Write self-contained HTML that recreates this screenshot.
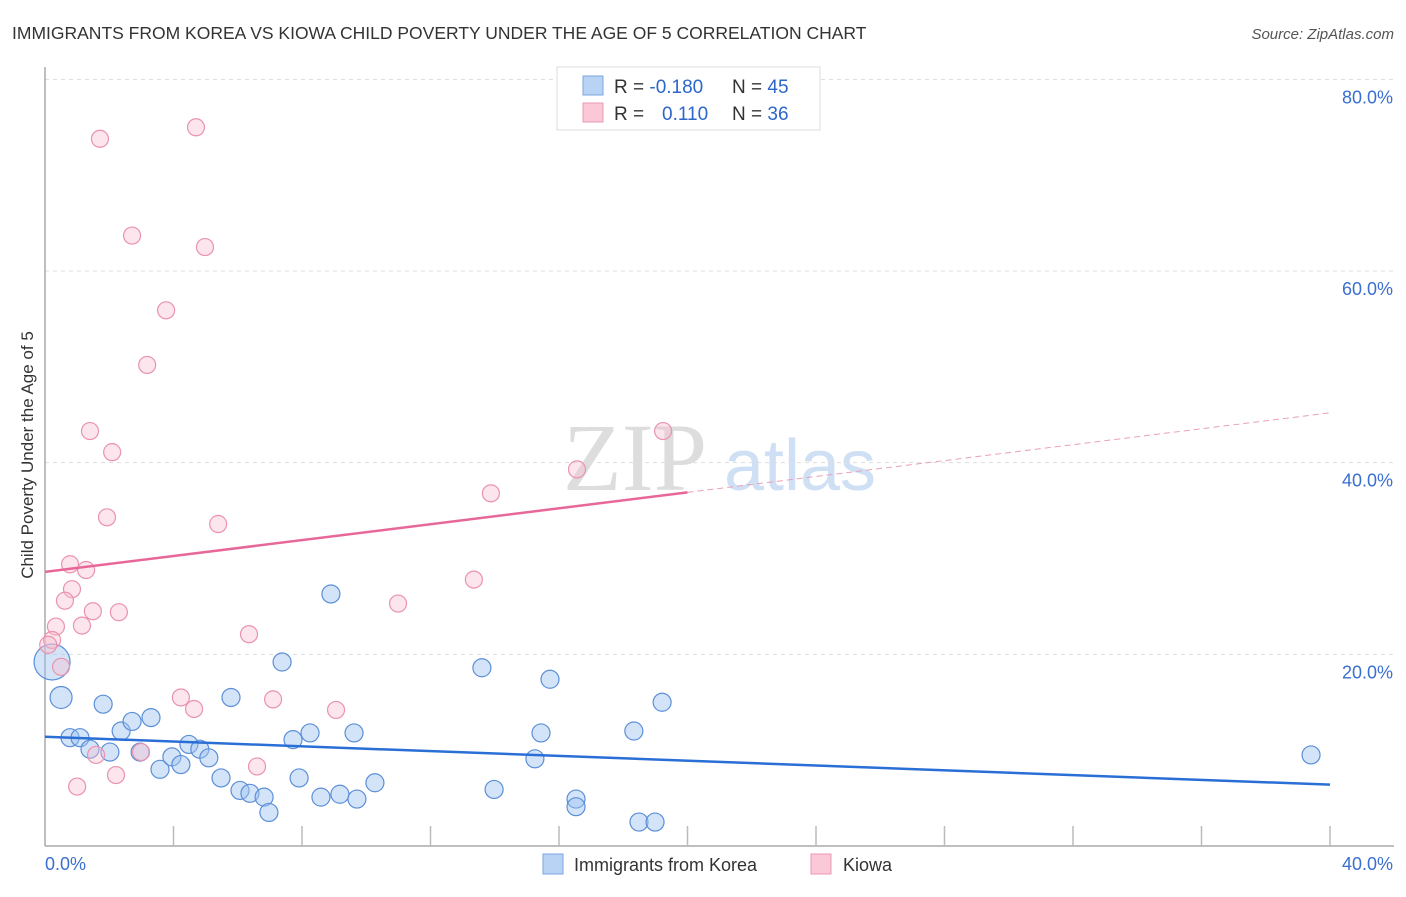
<!DOCTYPE html>
<html><head><meta charset="utf-8"><style>
body{margin:0;background:#fff;font-family:"Liberation Sans",sans-serif;}
svg text{font-family:"Liberation Sans",sans-serif;}
</style></head><body>
<svg id="c" width="1406" height="892">
<text x="12" y="39" font-size="17.5" fill="#333">IMMIGRANTS FROM KOREA VS KIOWA CHILD POVERTY UNDER THE AGE OF 5 CORRELATION CHART</text>
<text x="1394" y="39" font-size="15" fill="#555" font-style="italic" text-anchor="end">Source: ZipAtlas.com</text>
<text transform="translate(33,455) rotate(-90)" font-size="17" fill="#333" text-anchor="middle">Child Poverty Under the Age of 5</text>
<g>
<text x="635" y="490" font-size="96" fill="#ddd" font-family="Liberation Serif" text-anchor="middle" style="font-family:'Liberation Serif',serif">ZIP</text>
<text x="800" y="490" font-size="72" fill="#cfe0f5" text-anchor="middle">atlas</text>
</g>
<g id="grid"></g><g id="axes"></g><g id="marks"></g>
<g>
<rect x="557" y="67" width="263" height="63" fill="#fff" stroke="#ddd"/>
<rect x="583" y="76" width="20" height="19" fill="#b9d3f5" stroke="#7aa6e0"/>
<rect x="583" y="103" width="20" height="19" fill="#fac8d6" stroke="#eb98b2"/>
<text x="614" y="93" font-size="19" fill="#333">R = <tspan fill="#2d66c9">-0.180</tspan>  <tspan x="732">N = </tspan><tspan fill="#2d66c9">45</tspan></text>
<text x="614" y="120" font-size="19" fill="#333">R = <tspan x="662" fill="#2d66c9">0.110</tspan><tspan x="732">N = </tspan><tspan fill="#2d66c9">36</tspan></text>
</g>
<g>
<rect x="543" y="854" width="20" height="20" fill="#b9d3f5" stroke="#7aa6e0"/>
<text x="574" y="871" font-size="18" fill="#333">Immigrants from Korea</text>
<rect x="811" y="854" width="20" height="20" fill="#fac8d6" stroke="#eb98b2"/>
<text x="843" y="871" font-size="18" fill="#333">Kiowa</text>
</g>
</svg>
<script>
const yTicks=[20,40,60,80];
const yTickLabels=["20.0%","40.0%","60.0%","80.0%"];
const xTickLabels=["0.0%","40.0%"];
const koreaX=[0.22,0.5,0.78,1.09,1.4,1.81,2.02,2.37,2.71,2.96,3.3,3.58,3.95,4.23,4.48,4.82,5.1,5.48,5.79,6.07,6.38,6.82,6.97,7.38,7.72,7.91,8.25,8.59,8.9,9.18,9.62,9.71,10.27,13.6,13.98,15.25,15.44,15.72,16.53,16.53,18.33,18.49,18.99,19.21,39.41];
const koreaY=[19.2,15.5,11.3,11.3,10.1,14.8,9.8,12.0,13.0,9.8,13.4,8.0,9.3,8.5,10.6,10.1,9.2,7.1,15.5,5.8,5.5,5.1,3.5,19.2,11.1,7.1,11.8,5.1,26.3,5.4,11.8,4.9,6.6,18.6,5.9,9.1,11.8,17.4,4.9,4.1,12.0,2.5,2.5,15.0,9.5];
const kiowaX=[1.71,4.7,2.71,4.98,3.77,3.18,1.4,2.09,1.93,5.39,0.78,1.28,0.84,0.62,1.49,2.3,1.15,0.34,0.22,6.35,0.5,4.23,4.64,7.1,9.06,1.59,2.99,6.6,2.21,1.0,13.88,16.56,19.24,13.35,10.99,0.1];
const kiowaY=[73.8,75.0,63.7,62.5,55.9,50.2,43.3,41.1,34.3,33.6,29.4,28.8,26.8,25.6,24.5,24.4,23.0,22.9,21.5,22.1,18.7,15.5,14.3,15.3,14.2,9.5,9.8,8.3,7.4,6.2,36.8,39.3,43.3,27.8,25.3,21.0];
const koreaTrend=[[0,11.4],[40,6.4]];
const kiowaTrend=[[0,28.6],[20,36.9],[40,45.2]];
const NS='http://www.w3.org/2000/svg';
const X=v=>45+v*32.125, Y=v=>846-v*9.583;
function mk(t,a,p){const e=document.createElementNS(NS,t);for(const k in a)e.setAttribute(k,a[k]);p.appendChild(e);return e;}
const grid=document.getElementById('grid'),axes=document.getElementById('axes'),marks=document.getElementById('marks');
yTicks.forEach((t,i)=>{
 const l=mk('line',{x1:45,x2:1394,y1:Y(t),y2:Y(t),stroke:'#ddd','stroke-dasharray':'4,4'},grid);
 
 
 const tx=mk('text',{x:1393,y:Y(t)+24,'font-size':18,fill:'#3a6fd0','text-anchor':'end'},axes);
 tx.textContent=yTickLabels[i];
 
 
});
mk('line',{x1:45,x2:45,y1:67,y2:846,stroke:'#aaa','stroke-width':1.5},axes);
mk('line',{x1:45,x2:1394,y1:846,y2:846,stroke:'#aaa','stroke-width':1.5},axes);
for(let i=1;i<=10;i++){const t=mk('line',{x1:X(i*4),x2:X(i*4),y1:826,y2:846,stroke:'#bbb','stroke-width':1.5},axes);
 
 }
[[0,'start',45],[40,'end',1393]].forEach((d,i)=>{const t=mk('text',{x:d[2],y:870,'font-size':18,fill:'#3a6fd0','text-anchor':d[1]},axes);t.textContent=xTickLabels[i];
 
 });
function dot(x,y,r,fill,stroke){const c=mk('circle',{cx:X(x),cy:Y(y),r:r,fill:fill,stroke:stroke,'stroke-width':1.2},marks);return c;}
koreaX.forEach((x,i)=>{const r=i==0?18:(i==1?11:9);const c=dot(x,koreaY[i],r,'rgba(160,196,240,0.45)','#5b8fd8');
 
 });
kiowaX.forEach((x,i)=>{const c=dot(x,kiowaY[i],8.5,'rgba(248,190,208,0.4)','#ea93ae');
 
 });
let l=mk('line',{x1:X(koreaTrend[0][0]),y1:Y(koreaTrend[0][1]),x2:X(koreaTrend[1][0]),y2:Y(koreaTrend[1][1]),stroke:'#2a6fd6','stroke-width':2.5},marks);


l=mk('line',{x1:X(kiowaTrend[0][0]),y1:Y(kiowaTrend[0][1]),x2:X(kiowaTrend[1][0]),y2:Y(kiowaTrend[1][1]),stroke:'#e8679a','stroke-width':2.5},marks);


l=mk('line',{x1:X(kiowaTrend[1][0]),y1:Y(kiowaTrend[1][1]),x2:X(kiowaTrend[2][0]),y2:Y(kiowaTrend[2][1]),stroke:'#e8a0b8','stroke-width':1,'stroke-dasharray':'6,4'},marks);


</script>
</body></html>
